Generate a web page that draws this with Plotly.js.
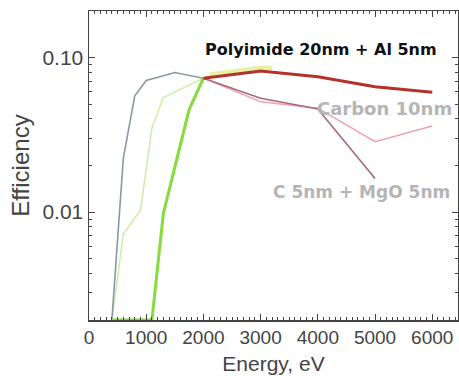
<!DOCTYPE html>
<html><head><meta charset="utf-8">
<script src="https://cdn.plot.ly/plotly-3.0.1.min.js"></script>
<style>html,body{margin:0;padding:0;background:#fff}#chart{width:459px;height:376px}</style>
</head><body><div id="chart"></div>
<script>
// Energy (eV) and efficiency values
const energyCMgO = [400, 600, 800, 1000, 1500, 2000, 3000, 4000, 5000];
const effCMgO    = [0.002, 0.0223, 0.0565, 0.071, 0.080, 0.0735, 0.0545, 0.0465, 0.0165];

const energyCarbon = [400, 600, 900, 1100, 1300, 2000, 3000, 4000, 5000, 6000];
const effCarbon    = [0.002, 0.0072, 0.0103, 0.035, 0.055, 0.0735, 0.0518, 0.047, 0.0285, 0.036];

const energyPolyimide = [400, 1100, 1300, 1750, 2000, 3000, 4000, 5000, 6000];
const effPolyimide    = [0.002, 0.002, 0.0098, 0.046, 0.0735, 0.0818, 0.0751, 0.0647, 0.0596];

const energyYellow = [2100, 3000, 3200];
const effYellow    = [0.078, 0.086, 0.0855];

const labels = ["Polyimide 20nm + Al 5nm", "Carbon 10nm", "C 5nm + MgO 5nm"];
const xTickVals = [0, 1000, 2000, 3000, 4000, 5000, 6000];
const yTickVals = [0.01, 0.1];
const yTickText = ["0.01", "0.10"];

const split = 2000;
function lowPart(xs, ys){const i = xs.indexOf(split); return {x: xs.slice(0, i + 1), y: ys.slice(0, i + 1)};}
function highPart(xs, ys){const i = xs.indexOf(split); return {x: xs.slice(i), y: ys.slice(i)};}

const yMinor = [];
for (const d of [0.001, 0.01, 0.1]) for (let k = 2; k <= 9; k++) { const v = k * d; if (v >= 0.002 && v <= 0.2 && Math.abs(v - 0.01) > 1e-9 && Math.abs(v - 0.1) > 1e-9) yMinor.push(v); }

function tr(p, color, width, name, op){return {x: p.x, y: p.y, mode: 'lines', type: 'scatter', name: name, opacity: op || 1, line: {color: color, width: width}, hoverinfo: 'skip'};}

const data = [
  tr(lowPart(energyCarbon, effCarbon), '#c9eea6', 1.5, labels[1]),
  tr(lowPart(energyCMgO, effCMgO), '#8b98a6', 1.6, labels[2]),
  tr(lowPart(energyPolyimide, effPolyimide), '#86dc3a', 3, labels[0]),
  tr(highPart(energyCarbon, effCarbon), '#eba3ae', 1.5, labels[1]),
  tr(highPart(energyCMgO, effCMgO), '#a8687c', 1.6, labels[2]),
  tr({x: energyYellow, y: effYellow}, '#d8e860', 4, 'yellow', 0.6),
  tr(highPart(energyPolyimide, effPolyimide), '#b3322b', 3, labels[0])
];

const fam = 'Liberation Sans, Arial, sans-serif';
const layout = {
  width: 459, height: 376,
  margin: {l: 89, r: 1, t: 11, b: 56},
  paper_bgcolor: '#fff', plot_bgcolor: '#fff',
  showlegend: false,
  xaxis: {
    range: [0, 6450], tickvals: xTickVals, ticktext: xTickVals.map(String),
    ticks: 'inside', ticklen: 6, tickwidth: 1, tickcolor: '#444',
    showline: true, linecolor: '#444', linewidth: 1.5, mirror: 'ticks',
    showgrid: false, zeroline: false, tickfont: {family: fam, size: 19, color: '#444'},
    minor: {dtick: 100, ticks: 'inside', ticklen: 3, tickcolor: '#444', showgrid: false},
    title: {text: 'Energy, eV', font: {family: fam, size: 21, color: '#444'}, standoff: 9}
  },
  yaxis: {
    type: 'log', range: [Math.log10(0.002), Math.log10(0.2)],
    tickvals: yTickVals, ticktext: yTickText,
    ticks: 'inside', ticklen: 6, tickwidth: 1, tickcolor: '#444',
    showline: true, linecolor: '#444', linewidth: 1.5, mirror: 'ticks',
    showgrid: false, zeroline: false, tickfont: {family: fam, size: 21, color: '#444'},
    minor: {tickmode: 'array', tickvals: yMinor, ticks: 'inside', ticklen: 3, tickcolor: '#444', showgrid: false},
    title: {text: 'Efficiency', font: {family: fam, size: 24, color: '#444'}, standoff: 6}
  },
  annotations: [
    {text: '<b>' + labels[0] + '</b>', xref: 'paper', yref: 'paper', x: 0.629, y: 0.874, xanchor: 'center', yanchor: 'middle', showarrow: false, font: {family: 'DejaVu Sans, sans-serif', size: 16, color: '#111'}},
    {text: '<b>' + labels[1] + '</b>', xref: 'paper', yref: 'paper', x: 0.612, y: 0.686, xanchor: 'left', yanchor: 'middle', showarrow: false, font: {family: 'DejaVu Sans, sans-serif', size: 18, color: '#b5b5b5'}},
    {text: '<b>' + labels[2] + '</b>', xref: 'paper', yref: 'paper', x: 0.492, y: 0.415, xanchor: 'left', yanchor: 'middle', showarrow: false, font: {family: 'DejaVu Sans, sans-serif', size: 17, color: '#b5b5b5'}}
  ]
};
Plotly.newPlot('chart', data, layout, {staticPlot: true, displayModeBar: false});
</script></body></html>
